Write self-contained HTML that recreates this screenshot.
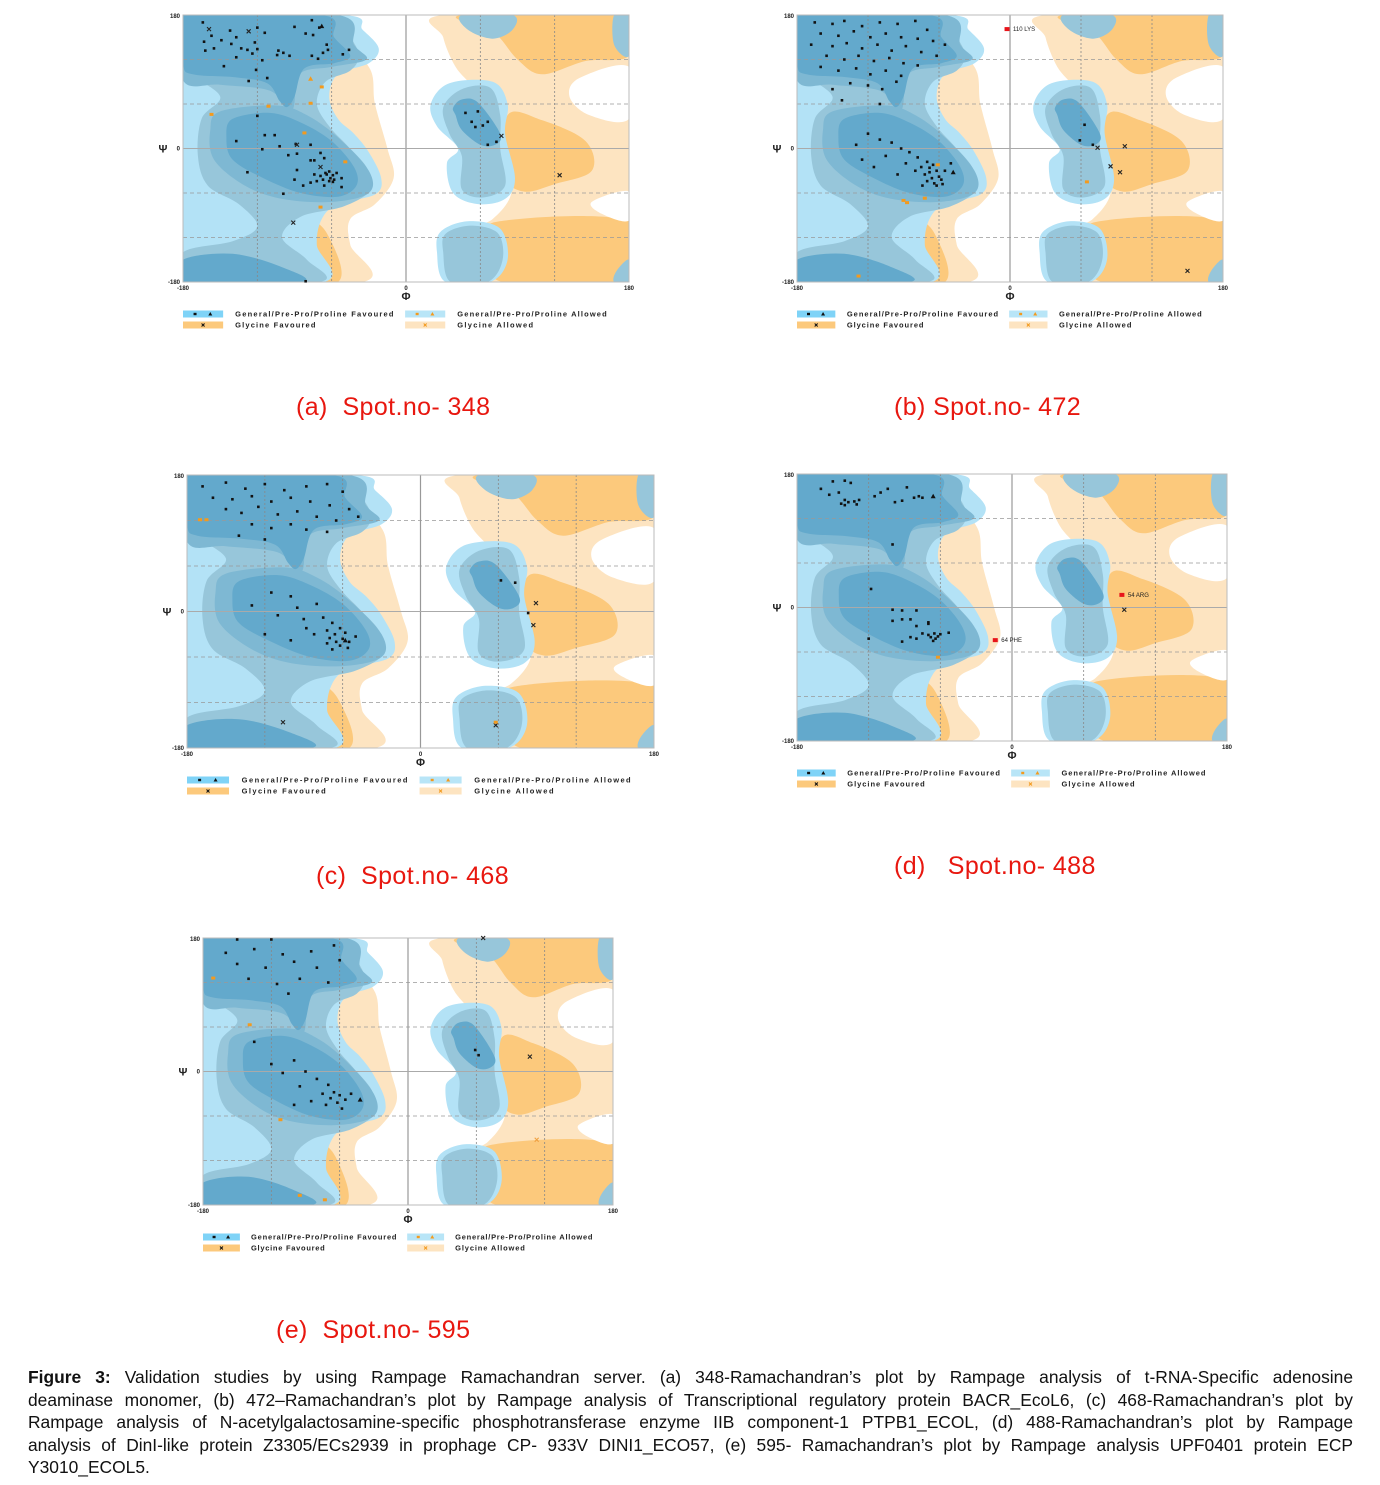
<!DOCTYPE html>
<html><head><meta charset="utf-8">
<style>
body{margin:0;background:#fff;width:1380px;height:1485px;position:relative;overflow:hidden;font-family:"Liberation Sans",Arial,sans-serif}
#fig{position:absolute;left:0;top:0}
.cap{position:absolute;color:#e8170f;font-size:25px;letter-spacing:0.4px;white-space:pre}
.para{position:absolute;left:28px;top:1366px;width:1325px;font-size:17.4px;color:#111;line-height:22.5px}
.para div{text-align:justify;text-align-last:justify;white-space:nowrap;overflow:visible}
.para div.last{text-align-last:left}
</style></head><body>
<svg id="fig" width="1380" height="1485" xmlns="http://www.w3.org/2000/svg"></svg>
<div class="cap" style="left:296px;top:393px">(a)  Spot.no- 348</div>
<div class="cap" style="left:894px;top:393px">(b) Spot.no- 472</div>
<div class="cap" style="left:316px;top:862px">(c)  Spot.no- 468</div>
<div class="cap" style="left:894px;top:852px">(d)   Spot.no- 488</div>
<div class="cap" style="left:276px;top:1316px">(e)  Spot.no- 595</div>
<div class="para">
<div><b>Figure 3:</b> Validation studies by using Rampage Ramachandran server. (a) 348-Ramachandran’s plot by Rampage analysis of t-RNA-Specific adenosine</div>
<div>deaminase monomer, (b) 472–Ramachandran’s plot by Rampage analysis of Transcriptional regulatory protein BACR_EcoL6, (c) 468-Ramachandran’s plot by</div>
<div>Rampage analysis of N-acetylgalactosamine-specific phosphotransferase enzyme IIB component-1 PTPB1_ECOL, (d) 488-Ramachandran’s plot by Rampage</div>
<div>analysis of DinI-like protein Z3305/ECs2939 in prophage CP- 933V DINI1_ECO57, (e) 595- Ramachandran’s plot by Rampage analysis UPF0401 protein ECP</div>
<div class="last">Y3010_ECOL5.</div>
</div>
<script>
// ---- data: [phi, psi] in degrees ----
const A_general=[[-164,170],[-142,159],[-120,163],[-90,164],[-76,173],[-70,163],[-157,152],[-137,150],[-114,156],[-81,155],[-75,153],[-163,144],[-149,146],[-141,141],[-122,143],[-64,140],[-162,132],[-155,135],[-133,135],[-128,133],[-120,134],[-103,132],[-99,129],[-63,133],[-46,133],[-137,123],[-124,128],[-116,119],[-104,126],[-94,125],[-76,125],[-71,121],[-51,127],[-67,129],[-147,111],[-121,106],[-112,95],[-127,91],[-120,44],
[-114,18],[-106,18],[-137,10],[-116,-1],[-102,3],[-89,6],[-77,5],[-95,-9],[-88,-7],[-69,-6],[-66,-13],[-77,-16],[-74,-16],[-128,-32],[-88,-29],[-90,-42],[-83,-50],[-77,-46],[-72,-44],[-66,-50],[-59,-45],[-52,-40],[-52,-52],[-56,-33],[-99,-61],[-64,-35],[-69,-37],[-61,-40],[-62,-44],[-65,-33],[-59,-36],[-74,-35],[-62,-31],[-58,-42],[-67,-42],[-81,-179],
[48,48],[58,50],[53,36],[56,29],[62,31],[66,36],[66,5],[73,9]];
const A_triangle=[[-68,165]];
const A_glycine=[[-127,158],[-159,161],[-88,5],[-69,-25],[-91,-100],[77,17],[124,-36]];
const A_allowed=[[-157,46],[-111,57],[-77,61],[-68,83],[-82,21],[-49,-18],[-69,-79]];
const A_allowedTri=[[-77,94]];
const A_outlier=[];
const A_outlierLabel=[];

const B_general=[[-165,170],[-150,168],[-140,172],[-125,165],[-110,170],[-95,168],[-80,172],[-70,160],[-160,155],[-145,152],[-132,158],[-118,150],[-105,155],[-92,150],[-78,148],[-65,145],[-55,140],[-168,140],[-150,138],[-138,142],[-125,135],[-112,140],[-100,132],[-88,138],[-75,130],[-62,125],[-155,125],[-140,120],[-128,125],[-115,118],[-102,122],[-90,115],[-78,112],[-160,110],[-145,105],[-130,108],[-118,100],[-105,105],[-92,98],[-135,88],[-120,85],[-108,80],[-150,80],[-96,90],[-142,65],[-110,60],
[-120,20],[-110,12],[-130,5],[-100,8],[-92,0],[-85,-5],[-105,-10],[-78,-12],[-70,-18],[-65,-22],[-75,-25],[-62,-30],[-68,-32],[-72,-35],[-60,-38],[-66,-40],[-58,-42],[-70,-44],[-64,-47],[-55,-30],[-80,-30],[-88,-20],[-95,-35],[-50,-20],[-62,-50],[-74,-50],[-57,-48],[-68,-26],[-115,-25],[-125,-15],
[59,11],[63,32],[70,5]];
const B_triangle=[[-48,-32]];
const B_glycine=[[97,3],[85,-24],[74,1],[93,-32],[150,-165]];
const B_allowed=[[-90,-70],[-87,-73],[-72,-67],[-61,-22],[65,-45],[-128,-172]];
const B_allowedTri=[];
const B_outlier=[[-2.5,161]];
const B_outlierLabel=["110 LYS"];

const C_general=[[-168,165],[-150,170],[-135,162],[-120,168],[-105,160],[-88,165],[-72,168],[-60,158],[-160,150],[-145,148],[-130,152],[-115,145],[-100,150],[-85,145],[-70,140],[-55,135],[-150,135],[-138,130],[-125,138],[-110,128],[-95,132],[-80,125],[-65,120],[-48,125],[-130,115],[-115,110],[-100,115],[-88,108],[-72,105],[-120,95],[-140,100],
[-115,25],[-100,20],[-130,8],[-95,5],[-80,10],[-110,-5],[-90,-10],[-75,-8],[-68,-15],[-62,-22],[-72,-25],[-58,-28],[-66,-30],[-70,-35],[-60,-36],[-65,-40],[-55,-40],[-72,-42],[-62,-45],[-50,-33],[-82,-30],[-88,-22],[-100,-38],[-56,-48],[-68,-50],[-120,-30],
[62,41],[73,38],[83,-2]];
const C_triangle=[[-58,-38]];
const C_glycine=[[-106,-146],[89,11],[87,-18],[58,-150]];
const C_allowed=[[-170,121],[-165,121],[58,-146]];
const C_allowedTri=[];
const C_outlier=[];
const C_outlierLabel=[];

const D_general=[[-150,170],[-140,171],[-160,160],[-153,152],[-145,155],[-135,168],[-115,150],[-110,155],[-104,160],[-88,162],[-82,148],[-78,150],[-143,140],[-140,145],[-137,142],[-132,143],[-128,145],[-140,138],[-130,139],[-98,142],[-92,144],[-75,148],[-100,85],
[-118,25],[-100,-3],[-92,-4],[-80,-4],[-100,-18],[-92,-16],[-85,-16],[-80,-25],[-70,-20],[-70,-22],[-75,-35],[-70,-37],[-65,-35],[-68,-40],[-64,-42],[-62,-39],[-60,-36],[-66,-45],[-53,-34],[-120,-42],[-92,-46],[-85,-40],[-80,-42]];
const D_triangle=[[-66,150]];
const D_glycine=[[94,-3]];
const D_allowed=[[-62,-67]];
const D_allowedTri=[];
const D_outlier=[[-14,-44],[92,17]];
const D_outlierLabel=["64 PHE","54 ARG"];

const E_general=[[-150,178],[-120,178],[-160,160],[-135,165],[-110,158],[-85,162],[-65,170],[-150,145],[-125,140],[-100,148],[-80,140],[-60,150],[-140,125],[-115,118],[-95,125],[-70,120],[-105,105],[-135,40],
[-120,10],[-100,15],[-110,-2],[-90,0],[-80,-10],[-95,-20],[-70,-18],[-65,-28],[-75,-30],[-60,-32],[-68,-36],[-55,-38],[-62,-42],[-72,-45],[-50,-30],[-85,-40],[-100,-45],[-58,-50],
[59,29],[62,22]];
const E_triangle=[[-42,-38]];
const E_glycine=[[107,20],[66,180]];
const E_allowed=[[-171,126],[-139,63],[-112,-65],[-95,-167],[-73,-173]];
const E_allowedTri=[];
const E_outlier=[];
const E_outlierLabel=[];
const E_gAllowed=[[113,-92]];

const axisTicks=["-180","0","180"];
const legendLabels=["General/Pre-Pro/Proline Favoured","General/Pre-Pro/Proline Allowed","Glycine Favoured","Glycine Allowed"];

// ---- background regions (degrees) ----
const R_lightOrange=[
 [[-60,150],[-30,110],[-25,60],[-15,0],[-10,-40],[-25,-75],[-45,-95],[-45,-130],[-35,-180],[-180,-180],[-180,-90],[-120,-80]],
 [[30,180],[180,180],[180,-180],[40,-180],[35,-140],[50,-110],[70,-95],[85,-60],[80,-10],[65,40],[55,80],[40,110],[30,150]]
];
const R_darkOrange=[
 [[-115,-105],[-80,-95],[-62,-120],[-55,-180],[-112,-180]],
 [[-180,-120],[-155,-130],[-150,-180],[-180,-180]],
 [[45,180],[180,180],[180,125],[145,118],[110,100],[90,120],[72,155]],
 [[82,45],[110,38],[145,10],[150,-30],[120,-48],[95,-58],[80,-35]],
 [[70,-100],[180,-98],[180,-180],[78,-180],[75,-140]]
];
const R_white=[
 [[140,95],[180,110],[180,40],[148,45],[132,70]],
 [[150,-72],[180,-58],[180,-97],[158,-88]]
];
const R_lightBlue=[
 [[-180,180],[-50,180],[-35,160],[-22,135],[-30,115],[-55,100],[-62,70],[-55,40],[-42,20],[-30,-5],[-20,-40],[-25,-62],[-55,-75],[-68,-95],[-72,-130],[-66,-180],[-180,-180]],
 [[20,60],[35,88],[70,90],[82,60],[80,20],[88,-40],[80,-68],[58,-75],[38,-60],[33,-20],[42,0],[25,30]],
 [[28,-112],[50,-98],[76,-108],[82,-150],[68,-180],[32,-180],[25,-140]]
];
const R_midBlue=[
 [[-180,180],[-60,180],[-45,150],[-38,125],[-45,105],[-65,90],[-72,60],[-62,30],[-48,5],[-32,-25],[-28,-55],[-50,-78],[-85,-92],[-100,-120],[-80,-150],[-70,-180],[-180,-180],[-180,-140],[-140,-125],[-120,-105],[-135,-75],[-160,-50],[-168,-10],[-165,40],[-150,70],[-175,100],[-180,110]],
 [[30,55],[45,80],[68,82],[76,45],[76,0],[80,-50],[62,-66],[45,-55],[45,-10],[35,20]],
 [[32,-115],[52,-104],[74,-114],[78,-150],[66,-180],[36,-180],[30,-140]],
 [[45,180],[86,180],[86,160],[70,148],[50,160]],
 [[168,180],[180,180],[180,125],[168,140]],
 [[170,-165],[180,-150],[180,-180],[168,-180]]
];
const R_midDark=[
 [[-180,180],[-55,180],[-42,140],[-32,120],[-60,110],[-86,100],[-92,52],[-110,78],[-150,86],[-180,92]],
 [[-150,50],[-105,58],[-80,45],[-55,15],[-30,-30],[-30,-60],[-60,-72],[-100,-68],[-130,-50],[-155,-15],[-158,25]]
];
const R_dark=[
 [[-180,180],[-68,180],[-58,150],[-45,125],[-58,115],[-82,108],[-90,70],[-96,56],[-102,64],[-112,88],[-138,96],[-172,100],[-180,115]],
 [[-140,40],[-110,48],[-85,35],[-60,10],[-42,-25],[-40,-50],[-55,-65],[-85,-60],[-115,-40],[-140,-15],[-145,15]],
 [[38,55],[45,66],[58,62],[76,20],[72,5],[60,5],[45,25],[40,45]],
 [[-180,-150],[-140,-142],[-100,-160],[-85,-180],[-180,-180]]
];

const NS="http://www.w3.org/2000/svg";
const svg=document.getElementById('fig');
function mk(tag,attrs,parent){const e=document.createElementNS(NS,tag);for(const k in attrs)e.setAttribute(k,attrs[k]);(parent||svg).appendChild(e);return e;}
function smooth(pts){const n=pts.length;let d=`M${pts[0][0]},${pts[0][1]}`;
 for(let i=0;i<n;i++){const p0=pts[(i-1+n)%n],p1=pts[i],p2=pts[(i+1)%n],p3=pts[(i+2)%n];
  const c1=[p1[0]+(p2[0]-p0[0])/6,p1[1]+(p2[1]-p0[1])/6],c2=[p2[0]-(p3[0]-p1[0])/6,p2[1]-(p3[1]-p1[1])/6];
  d+=`C${c1[0].toFixed(1)},${c1[1].toFixed(1)} ${c2[0].toFixed(1)},${c2[1].toFixed(1)} ${p2[0].toFixed(1)},${p2[1].toFixed(1)}`;}
 return d+'Z';}

function plot(id,L,T,R,B,d){
 const W=R-L,H=B-T;
 const xs=phi=>L+(phi+180)/360*W, ys=psi=>T+(180-psi)/360*H;
 const g=mk('g',{});
 
 
 const cp=mk('clipPath',{id:'clip'+id},g);mk('rect',{x:L,y:T,width:W,height:H},cp);
 const rg=mk('g',{'clip-path':`url(#clip${id})`},g);
 const layer=(list,fill,name)=>list.forEach(p=>{const e=mk('path',{d:smooth(p.map(q=>[xs(q[0]),ys(q[1])])),fill:fill},rg);
  
  });
 layer(R_lightOrange,'#fde4c1','glycine-allowed-region');
 layer(R_darkOrange,'#fcc97c','glycine-favoured-region');
 layer(R_white,'#ffffff','disallowed-region');
 layer(R_lightBlue,'#b3e2f6','general-allowed-region');
 layer(R_midBlue,'#97c6da','general-allowed-inner-region');
 layer(R_midDark,'#7eb8d3','general-favoured-outer-region');
 layer(R_dark,'#63a9cc','general-favoured-region');
 [-120,-60,60,120].forEach(v=>{mk('line',{x1:xs(v),x2:xs(v),y1:T,y2:B,stroke:'#888','stroke-width':0.8,'stroke-dasharray':'2,2'},g);
  mk('line',{x1:L,x2:R,y1:ys(v),y2:ys(v),stroke:'#999','stroke-width':0.8,'stroke-dasharray':'4,3'},g);});
 mk('line',{x1:xs(0),x2:xs(0),y1:T,y2:B,stroke:'#999','stroke-width':1.2},g);
 mk('line',{x1:L,x2:R,y1:ys(0),y2:ys(0),stroke:'#aaa','stroke-width':1},g);
 const fr=mk('rect',{x:L,y:T,width:W,height:H,fill:'none',stroke:'#bbb','stroke-width':1},g);
 
 
 const tk=(x,y,t,a,name)=>{const e=mk('text',{x:x,y:y,'font-size':6,'font-weight':'bold','text-anchor':a||'middle',fill:'#222'},g);e.textContent=t;
  
  };
 tk(L,B+8,axisTicks[0],'middle','x-tick-min');tk(xs(0),B+8,axisTicks[1],'middle','x-tick-zero');tk(R,B+8,axisTicks[2],'middle','x-tick-max');
 tk(L-3,T+3,axisTicks[2],'end','y-tick-max');tk(L-3,ys(0)+2,axisTicks[1],'end','y-tick-zero');tk(L-3,B+2,axisTicks[0],'end','y-tick-min');
 const px=mk('text',{x:xs(0),y:B+18,'font-size':11,'font-weight':'bold','text-anchor':'middle',fill:'#222'},g);px.textContent='Φ';
 
 
 const py=mk('text',{x:L-20,y:ys(0)+4,'font-size':11,'font-weight':'bold','text-anchor':'middle',fill:'#222'},g);py.textContent='Ψ';
 
 
 d.gen.forEach(p=>{const e=mk('rect',{x:xs(p[0])-1.3,y:ys(p[1])-1.3,width:2.6,height:2.6,fill:'#111'},g);
  
  });
 d.tri.forEach(p=>{const x=xs(p[0]),y=ys(p[1]);const e=mk('path',{d:`M${x},${y-2.5}L${x+2.5},${y+2}L${x-2.5},${y+2}Z`,fill:'#111'},g);
  
  });
 d.gly.forEach(p=>{const x=xs(p[0]),y=ys(p[1]);const e=mk('path',{d:`M${x-2},${y-2}L${x+2},${y+2}M${x+2},${y-2}L${x-2},${y+2}`,stroke:'#222','stroke-width':1.1},g);
  
  });
 (d.gAl||[]).forEach(p=>{const x=xs(p[0]),y=ys(p[1]);const e=mk('path',{d:`M${x-2},${y-2}L${x+2},${y+2}M${x+2},${y-2}L${x-2},${y+2}`,stroke:'#f0a040','stroke-width':1.1},g);
  
  });
 d.al.forEach(p=>{const e=mk('rect',{x:xs(p[0])-2,y:ys(p[1])-1.5,width:4,height:3,fill:'#f39a1e'},g);
  
  });
 d.alT.forEach(p=>{const x=xs(p[0]),y=ys(p[1]);const e=mk('path',{d:`M${x},${y-2.5}L${x+2.5},${y+2}L${x-2.5},${y+2}Z`,fill:'#f39a1e'},g);
  
  });
 d.out.forEach((p,i)=>{const x=xs(p[0]),y=ys(p[1]);const e=mk('rect',{x:x-2.5,y:y-2,width:5,height:4,fill:'#e8141a'},g);
  
  
  const t=mk('text',{x:x+6,y:y+2,'font-size':6,fill:'#222'},g);t.textContent=d.outL[i];
  
  });
 const ly1=B+32,ly2=B+43,sw=0.09*W;
 const leg=[[L,ly1,'#7fd3f7',legendLabels[0],'fav'],[L+0.498*W,ly1,'#b8e5f7',legendLabels[1],'allow'],[L,ly2,'#fcc97c',legendLabels[2],'gfav'],[L+0.498*W,ly2,'#fde4c1',legendLabels[3],'gallow']];
 leg.forEach(([x,y,c,t,k])=>{const gg=mk('g',{},g);
  
  
  mk('rect',{x:x,y:y-3.5,width:sw,height:7,fill:c},gg);
  const mc=(k==='fav'||k==='gfav')?'#111':'#f39a1e';
  if(k==='fav'||k==='allow'){mk('rect',{x:x+sw*0.3-1.5,y:y-1.2,width:3,height:2.4,fill:mc},gg);mk('path',{d:`M${x+sw*0.68},${y-2}L${x+sw*0.68+2},${y+1.5}L${x+sw*0.68-2},${y+1.5}Z`,fill:mc},gg);}
  else{mk('path',{d:`M${x+sw/2-1.5},${y-1.5}L${x+sw/2+1.5},${y+1.5}M${x+sw/2+1.5},${y-1.5}L${x+sw/2-1.5},${y+1.5}`,stroke:mc,'stroke-width':1},gg);}
  const te=mk('text',{x:x+0.117*W,y:y+2.5,'font-size':7.5,'font-weight':'bold',fill:'#222','textLength':k.startsWith('g')?(k==='gfav'?0.18*W:0.17*W):(k==='fav'?0.355*W:0.335*W)},gg);te.textContent=t;});
}
plot('a',183,15,629,282,{gen:A_general,tri:A_triangle,gly:A_glycine,al:A_allowed,alT:A_allowedTri,out:A_outlier,outL:A_outlierLabel});
plot('b',797,15,1223,282,{gen:B_general,tri:B_triangle,gly:B_glycine,al:B_allowed,alT:B_allowedTri,out:B_outlier,outL:B_outlierLabel});
plot('c',187,475,654,748,{gen:C_general,tri:C_triangle,gly:C_glycine,al:C_allowed,alT:C_allowedTri,out:C_outlier,outL:C_outlierLabel});
plot('d',797,474,1227,741,{gen:D_general,tri:D_triangle,gly:D_glycine,al:D_allowed,alT:D_allowedTri,out:D_outlier,outL:D_outlierLabel});
plot('e',203,938,613,1205,{gen:E_general,tri:E_triangle,gly:E_glycine,al:E_allowed,alT:E_allowedTri,out:E_outlier,outL:E_outlierLabel,gAl:E_gAllowed});
</script>
</body></html>
